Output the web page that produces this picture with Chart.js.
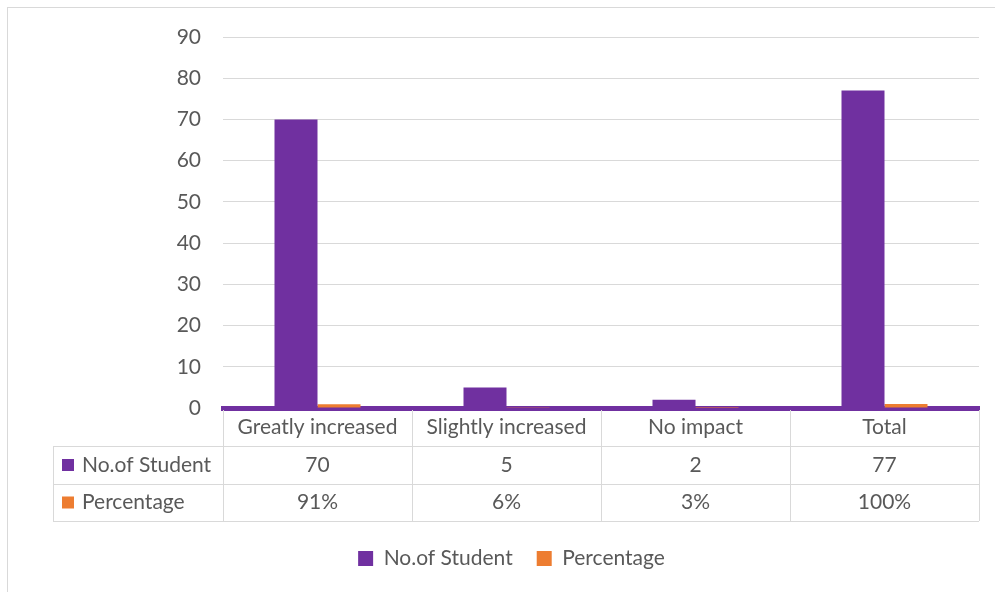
<!DOCTYPE html>
<html>
<head>
<meta charset="utf-8">
<script src="https://cdn.jsdelivr.net/npm/chart.js@4/dist/chart.umd.min.js"></script>
<style>
  body { margin: 0; background: #fff; }
  #wrap { position: absolute; left: 0; top: 0; width: 995px; height: 592px; }
</style>
</head>
<body>
<div id="wrap"><canvas id="myChart" width="995" height="592"></canvas></div>
<script>
// chart data
const categories = ['Greatly increased', 'Slightly increased', 'No impact', 'Total'];
const students = [70, 5, 2, 77];
const percentages = [0.91, 0.06, 0.03, 1.00];
const series_names = ['No.of Student', 'Percentage'];
const series_colors = ['#7030A0', '#ED7D31'];
const y_ticks = [0, 10, 20, 30, 40, 50, 60, 70, 80, 90];

const font_family = 'Lato, "Open Sans", sans-serif';
const font_size = 21;
const text_color = '#595959';
const line_color = '#d9d9d9';

// draws the outer frame and the data table under the x axis
const table_plugin = {
    id: 'dataTable',
    afterDraw(chart) {
        const ctx = chart.ctx;
        const x = chart.scales.x;
        const area = chart.chartArea;
        const top = area.bottom;
        const rows = [top, top + 38, top + 76, top + 113];
        const left_col = 53;
        const step = x.width / categories.length;
        ctx.save();
        // outer frame
        ctx.strokeStyle = line_color;
        ctx.lineWidth = 1;
        ctx.strokeRect(7.5, 7.5, 1000, 600);
        // grid of the table
        ctx.beginPath();
        for (let i = 0; i <= categories.length; i++) {
            const px = Math.round(x.left + i * step) + 0.5;
            ctx.moveTo(px, top + 2);
            ctx.lineTo(px, rows[3]);
        }
        ctx.moveTo(left_col + 0.5, rows[1]);
        ctx.lineTo(left_col + 0.5, rows[3]);
        for (let r = 1; r <= 3; r++) {
            ctx.moveTo(left_col, rows[r] + 0.5);
            ctx.lineTo(x.right, rows[r] + 0.5);
        }
        ctx.stroke();
        // row headers with their keys
        ctx.font = font_size + 'px ' + font_family;
        ctx.textBaseline = 'middle';
        const table_values = [
            students.map(v => String(v)),
            percentages.map(v => Math.round(v * 100) + '%')
        ];
        for (let r = 0; r < 2; r++) {
            const cy = (rows[r + 1] + rows[r + 2]) / 2;
            ctx.fillStyle = series_colors[r];
            ctx.fillRect(62, cy - 6, 12, 12);
            ctx.fillStyle = text_color;
            ctx.textAlign = 'left';
            ctx.fillText(series_names[r], 82, cy);
            ctx.textAlign = 'center';
            for (let i = 0; i < categories.length; i++) {
                ctx.fillText(table_values[r][i], x.left + (i + 0.5) * step, cy);
            }
        }
        ctx.restore();
    }
};

const config = {
    type: 'bar',
    data: {
        labels: categories,
        datasets: [{
            label: series_names[0],
            data: students,
            backgroundColor: series_colors[0],
            categoryPercentage: 0.455,
            barPercentage: 1
        }, {
            label: series_names[1],
            data: percentages,
            backgroundColor: series_colors[1],
            categoryPercentage: 0.455,
            barPercentage: 1
        }]
    },
    options: {
        responsive: false,
        animation: false,
        layout: {
            padding: { top: 37, right: 16, bottom: 13, left: 44 }
        },
        plugins: {
            tooltip: { enabled: false },
            legend: {
                position: 'bottom',
                labels: {
                    boxWidth: 15,
                    boxHeight: 15,
                    padding: 24,
                    color: text_color,
                    font: { family: font_family, size: font_size }
                }
            }
        },
        scales: {
            x: {
                afterFit: function(scale) { scale.height = 116; },
                grid: { display: false, drawTicks: false },
                border: { display: true, color: series_colors[0], width: 5 },
                ticks: {
                    padding: 7,
                    color: text_color,
                    font: { family: font_family, size: font_size }
                }
            },
            y: {
                min: 0,
                max: 90,
                afterFit: function(scale) { scale.width = 179; },
                afterBuildTicks: function(scale) {
                    scale.ticks = y_ticks.map(v => ({ value: v }));
                },
                grid: { color: line_color, drawTicks: false },
                border: { display: false },
                ticks: {
                    padding: 22,
                    color: text_color,
                    font: { family: font_family, size: font_size }
                }
            }
        }
    },
    plugins: [table_plugin]
};

new Chart(document.getElementById('myChart'), config);
</script>
</body>
</html>
